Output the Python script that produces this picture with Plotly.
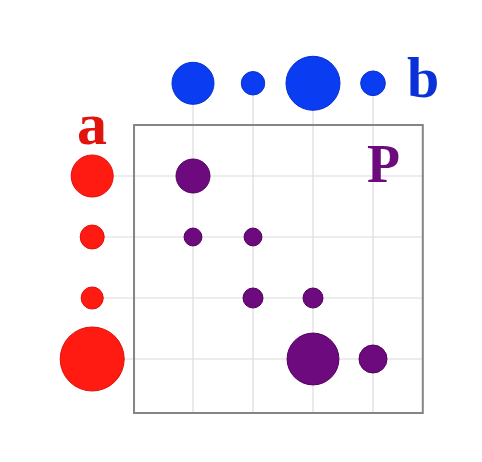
import plotly.graph_objects as go
import numpy as np

# data
a_vals = [0.276, 0.09, 0.076, 0.64]          # marginal a (rows)
b_vals = [0.276, 0.086, 0.456, 0.095]        # marginal b (columns)
p_rows = [0, 1, 1, 2, 2, 3, 3]               # coupling P entries
p_cols = [0, 0, 1, 1, 2, 2, 3]
p_vals = [0.18, 0.05, 0.05, 0.0625, 0.0625, 0.42, 0.1225]
row_idx = [0, 1, 2, 3]
col_idx = [0, 1, 2, 3]

SCALE = 80  # diameter per sqrt(mass)
def sz(v):
    return [SCALE * np.sqrt(x) for x in v]

RED = "#ff1a12"
BLUE = "#0a3cf2"
PURPLE = "#6c0a7e"

A_X = -1.68   # column position of marginal a
B_Y = -1.52   # row position of marginal b
BOX = dict(x0=-0.983, x1=3.83, y0=-0.836, y1=3.885)

fig = go.Figure()

shapes = []
for j in col_idx:
    shapes.append(dict(type="line", x0=j, x1=j, y0=B_Y, y1=BOX["y1"],
                       line=dict(color="#dcdcdc", width=1.2), layer="below"))
for i in row_idx:
    shapes.append(dict(type="line", x0=A_X, x1=BOX["x1"], y0=i, y1=i,
                       line=dict(color="#dcdcdc", width=1.2), layer="below"))
shapes.append(dict(type="rect", x0=BOX["x0"], x1=BOX["x1"], y0=BOX["y0"], y1=BOX["y1"],
                   line=dict(color="#858585", width=2), fillcolor="rgba(0,0,0,0)", layer="above"))

fig.add_trace(go.Scatter(x=[A_X] * len(a_vals), y=row_idx, mode="markers",
                         marker=dict(size=sz(a_vals), color=RED, opacity=1,
                                     line=dict(color="#e01008", width=1)),
                         hoverinfo="skip"))
fig.add_trace(go.Scatter(x=col_idx, y=[B_Y] * len(b_vals), mode="markers",
                         marker=dict(size=sz(b_vals), color=BLUE, opacity=1,
                                     line=dict(color="#0830d0", width=1)),
                         hoverinfo="skip"))
fig.add_trace(go.Scatter(x=p_cols, y=p_rows, mode="markers",
                         marker=dict(size=sz(p_vals), color=PURPLE, opacity=1,
                                     line=dict(color="#550060", width=1)),
                         hoverinfo="skip"))

font_fam = "Liberation Serif"
anns = [
    dict(x=A_X, y=-0.85, text="<b>a</b>", font=dict(size=60, color="#e0140c", family=font_fam)),
    dict(x=3.83, y=-1.62, text="<b>b</b>", font=dict(size=58, color="#0a30d8", family=font_fam)),
    dict(x=3.18, y=-0.2, text="<b>P</b>", font=dict(size=54, color=PURPLE, family=font_fam)),
]
for an in anns:
    an.update(showarrow=False, xanchor="center", yanchor="middle")

fig.update_layout(
    width=482, height=462,
    margin=dict(l=0, r=0, t=0, b=0),
    paper_bgcolor="white", plot_bgcolor="white",
    showlegend=False,
    shapes=shapes, annotations=anns,
    xaxis=dict(range=[-185 / 60, (482 - 185) / 60], visible=False, fixedrange=True),
    yaxis=dict(range=[(462 - 168) / 61, -168 / 61], visible=False, fixedrange=True),
)

fig.write_html("out.html")
